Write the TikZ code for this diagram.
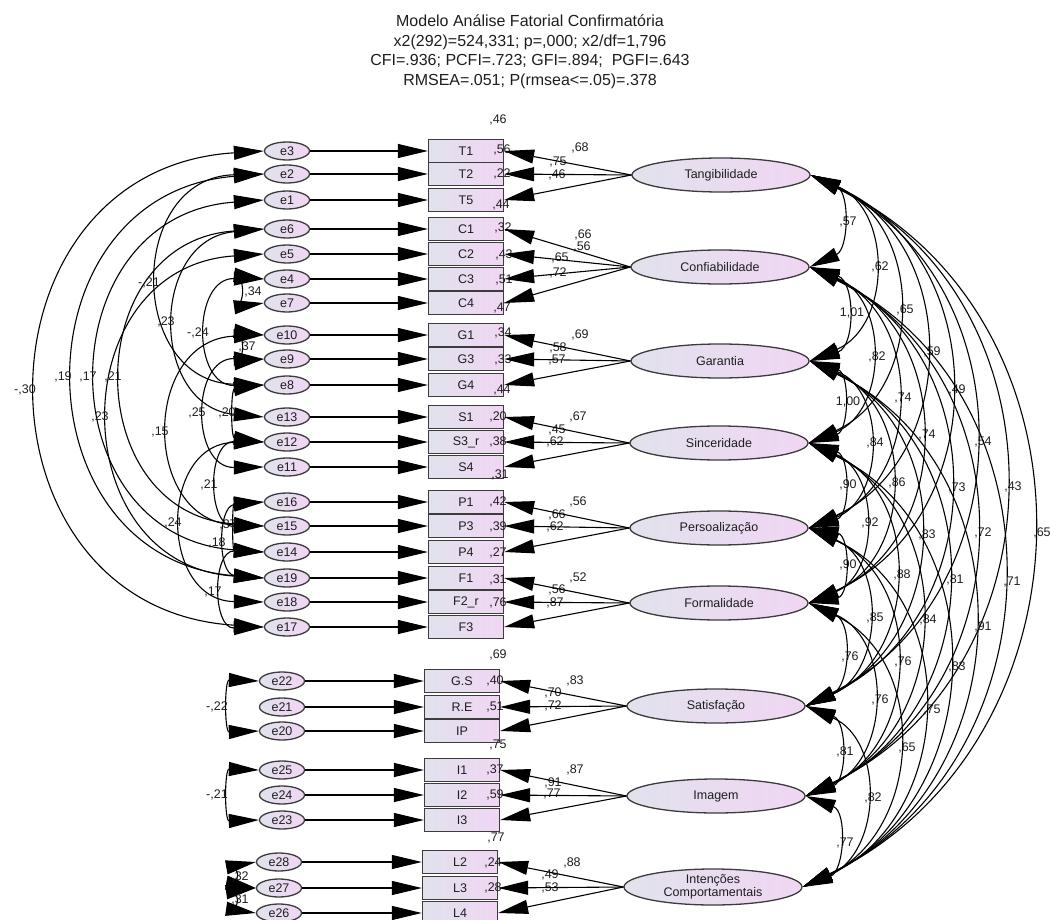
\documentclass[tikz,border=0pt]{standalone}
\usepackage{fontspec}
\setmainfont{Liberation Sans}
\usetikzlibrary{arrows.meta,shapes.geometric,calc}
\definecolor{shL}{HTML}{E1E2EC}
\definecolor{shR}{HTML}{F0D6F3}
\definecolor{bdr}{HTML}{3C3C3C}
\definecolor{ink}{HTML}{1E1E1E}
\tikzset{
  bigtri/.tip={Triangle[length=30pt,width=14pt]},
  every node/.style={font=\fontsize{12.5}{14}\selectfont, text=ink},
  lat/.style={ellipse, draw=bdr, line width=1.3pt, left color=shL, right color=shR,
    minimum width=178pt, minimum height=34pt, inner sep=0pt, align=center},
  obs/.style={rectangle, draw=bdr, line width=1.3pt, left color=shL, right color=shR,
    minimum width=75pt, minimum height=23pt, inner sep=0pt},
  err/.style={ellipse, draw=bdr, line width=1.3pt, left color=shL, right color=shR,
    minimum width=45pt, minimum height=18pt, inner sep=0pt},
  lbl/.style={inner sep=0pt},
  arr/.style={-bigtri, line width=1.1pt, draw=black},
  cov/.style={bigtri-bigtri, line width=1.1pt, draw=black},
}
\begin{document}
\begin{tikzpicture}[x=1pt,y=-1pt]
\useasboundingbox (0,0) rectangle (1050,920);

\node[align=center, font=\fontsize{16}{19.5}\selectfont] (title) at (530,52)
 {Modelo Análise Fatorial Confirmatória\\x2(292)=524,331; p=,000; x2/df=1,796\\CFI=.936; PCFI=.723; GFI=.894;\ \ PGFI=.643\\RMSEA=.051; P(rmsea<=.05)=.378};

% latent factors
\node[lat] (F1) at (721,175) {Tangibilidade};
\node[lat] (F2) at (720,267) {Confiabilidade};
\node[lat] (F3) at (720,361) {Garantia};
\node[lat] (F4) at (719,443) {Sinceridade};
\node[lat] (F5) at (719,528) {Persoalização};
\node[lat] (F6) at (719,603) {Formalidade};
\node[lat] (F7) at (716,706) {Satisfação};
\node[lat] (F8) at (716,796) {Imagem};
\node[lat, minimum height=36pt, font=\fontsize{12.5}{13.5}\selectfont] (F9) at (713,887) {Intenções\\Comportamentais};

% observed + errors
\foreach \b/\t/\e/\el/\y/\bx/\ex in {
 T1/T1/e3/e3/151/466/287, T2/T2/e2/e2/174/466/287, T5/T5/e1/e1/200/466/287,
 C1/C1/e6/e6/229/466/287, C2/C2/e5/e5/254/466/287, C3/C3/e4/e4/279/466/287, C4/C4/e7/e7/303/466/287,
 G1/G1/e10/e10/335/466/287, G3/G3/e9/e9/359/466/287, G4/G4/e8/e8/385/466/287,
 S1/S1/e13/e13/417/466/287, S3r/S3\_r/e12/e12/442/466/287, S4/S4/e11/e11/467/466/287,
 P1/P1/e16/e16/502/466/287, P3/P3/e15/e15/526/466/287, P4/P4/e14/e14/552/466/287,
 Fa/F1/e19/e19/578/466/287, F2r/F2\_r/e18/e18/602/466/287, Fc/F3/e17/e17/627/466/287,
 GS/G.S/e22/e22/681/462/282, RE/R.E/e21/e21/707/462/282, IP/IP/e20/e20/731/462/282,
 I1/I1/e25/e25/770/462/282, I2/I2/e24/e24/795/462/282, I3/I3/e23/e23/820/462/282,
 L2/L2/e28/e28/862/460/279, L3/L3/e27/e27/888/460/279, L4/L4/e26/e26/913/460/279}{
  \node[obs] (\b) at (\bx,\y) {\t};
  \node[err] (\e) at (\ex,\y) {\el};
}

% R2 labels
\foreach \x/\y/\t [count=\k] in {498/120/{,46},502/150/{,56},502/174/{,22},501/205/{,44},
 503/228/{,32},504/255/{,43},504/280/{,51},502/308/{,47},503/333/{,34},503/360/{,33},502/390/{,44},
 498/417/{,20},498/442/{,38},500/475/{,31},498/502/{,42},498/527/{,39},498/553/{,27},
 498/580/{,31},498/603/{,76},498/655/{,69},495/681/{,40},495/707/{,51},498/745/{,75},
 495/770/{,37},495/795/{,59},496/838/{,77},493/863/{,24},493/888/{,28}}{
  \node[lbl] (r\k) at (\x,\y) {\t};
}

% loading labels
\foreach \x/\y/\t [count=\k] in {580/148/{,68},558/162/{,75},557/175/{,46},
 583/235/{,66},582/247/{,56},560/258/{,65},558/273/{,72},
 580/335/{,69},558/348/{,58},557/360/{,57},
 578/417/{,67},557/430/{,45},555/442/{,62},
 578/502/{,56},557/515/{,66},555/527/{,62},
 578/578/{,52},557/590/{,56},555/603/{,87},
 575/681/{,83},553/693/{,70},553/706/{,72},
 575/770/{,87},553/783/{,91},552/794/{,77},
 572/863/{,88},550/875/{,49},550/888/{,53}}{
  \node[lbl] (w\k) at (\x,\y) {\t};
}

% loadings
\foreach \f/\bs in {F1/{T1,T2,T5},F2/{C1,C2,C3,C4},F3/{G1,G3,G4},F4/{S1,S3r,S4},
  F5/{P1,P3,P4},F6/{Fa,F2r,Fc},F7/{GS,RE,IP},F8/{I1,I2,I3},F9/{L2,L3,L4}}{
  \foreach \b in \bs { \draw[arr] (\f.west) -- (\b.east); }
}
% error paths
\foreach \e/\b in {e3/T1,e2/T2,e1/T5,e6/C1,e5/C2,e4/C3,e7/C4,e10/G1,e9/G3,e8/G4,
  e13/S1,e12/S3r,e11/S4,e16/P1,e15/P3,e14/P4,e19/Fa,e18/F2r,e17/Fc,
  e22/GS,e21/RE,e20/IP,e25/I1,e24/I2,e23/I3,e28/L2,e27/L3,e26/L4}{
  \draw[arr] (\e.east) -- (\b.west);
}

% factor covariances (right)
\foreach \a/\b/\t/\lx/\ly [count=\k] in {
 F1/F2/{,57}/848/222, F1/F3/{,62}/880/267, F1/F4/{,65}/905/310, F2/F3/{1,01}/852/313,
 F1/F5/{,59}/932/352, F2/F4/{,82}/877/357, F1/F6/{,49}/957/390, F3/F4/{1,00}/848/402,
 F2/F5/{,74}/903/398, F2/F6/{,74}/927/435, F3/F5/{,84}/875/443, F1/F7/{,54}/983/442,
 F4/F5/{,90}/848/485, F3/F6/{,86}/897/483, F2/F7/{,73}/957/488, F1/F8/{,43}/1013/487,
 F4/F6/{,92}/870/523, F3/F7/{,83}/927/535, F2/F8/{,72}/983/533, F1/F9/{,65}/1042/533,
 F5/F6/{,90}/848/565, F4/F7/{,88}/902/575, F3/F8/{,81}/955/580, F2/F9/{,71}/1012/582,
 F5/F7/{,85}/875/618, F4/F8/{,84}/928/620, F3/F9/{,91}/983/627, F6/F7/{,76}/850/657,
 F5/F8/{,76}/903/662, F4/F9/{,83}/957/667, F6/F8/{,76}/880/700, F5/F9/{,75}/932/710,
 F7/F8/{,81}/845/752, F6/F9/{,65}/907/748, F7/F9/{,82}/873/798, F8/F9/{,77}/845/843}{
  \node[lbl] (c\k) at (\lx,\ly) {\t};
  \draw[cov] let \p1=(\a.east), \p2=(\b.east), \n1={\lx*1pt-8pt-\x1}, \n2={\y1-\y2},
    \n3={\n2/3-4/3*\n1*(\n1/\n2)} in
    (\a.east) .. controls (\x1+4/3*\n1,\y1-\n3) and (\x2+4/3*\n1,\y2+\n3) .. (\b.east);
}

% error covariances (left)
\foreach \a/\b/\ax in {e3/e17/40, e2/e19/77, e1/e14/100, e6/e15/125,
 e2/e8/161, e6/e13/178, e4/e8/210, e4/e7/250, e10/e9/250,
 e5/e19/112, e10/e15/172, e9/e11/209, e8/e12/239, e12/e15/221, e12/e18/185,
 e16/e14/240, e16/e19/229, e14/e17/225,
 e22/e20/233, e25/e23/233, e28/e27/245, e27/e26/245}{
  \draw[cov] let \p1=(\a.west), \p2=(\b.west), \n1={\x1-\ax*1pt}, \n2={\y1-\y2},
    \n3={\n2/3-4/3*\n1*(\n1/\n2)} in
    (\a.west) .. controls (\x1-4/3*\n1,\y1-\n3) and (\x2-4/3*\n1,\y2+\n3) .. (\b.west);
}
\foreach \x/\y/\t [count=\k] in {25/390/{-,30},63/377/{,19},88/377/{,17},113/377/{,21},
 149/283/{-,21},166/322/{,23},198/333/{-,24},253/292/{,34},247/347/{,37},
 100/417/{,23},160/432/{,15},197/413/{,25},227/413/{,20},209/485/{,21},173/523/{,24},
 228/525/{,37},217/543/{,18},213/592/{,17},217/707/{-,22},217/795/{-,21},240/877/{,32},240/900/{,31}}{
  \node[lbl] (v\k) at (\x,\y) {\t};
}
\end{tikzpicture}
\end{document}
